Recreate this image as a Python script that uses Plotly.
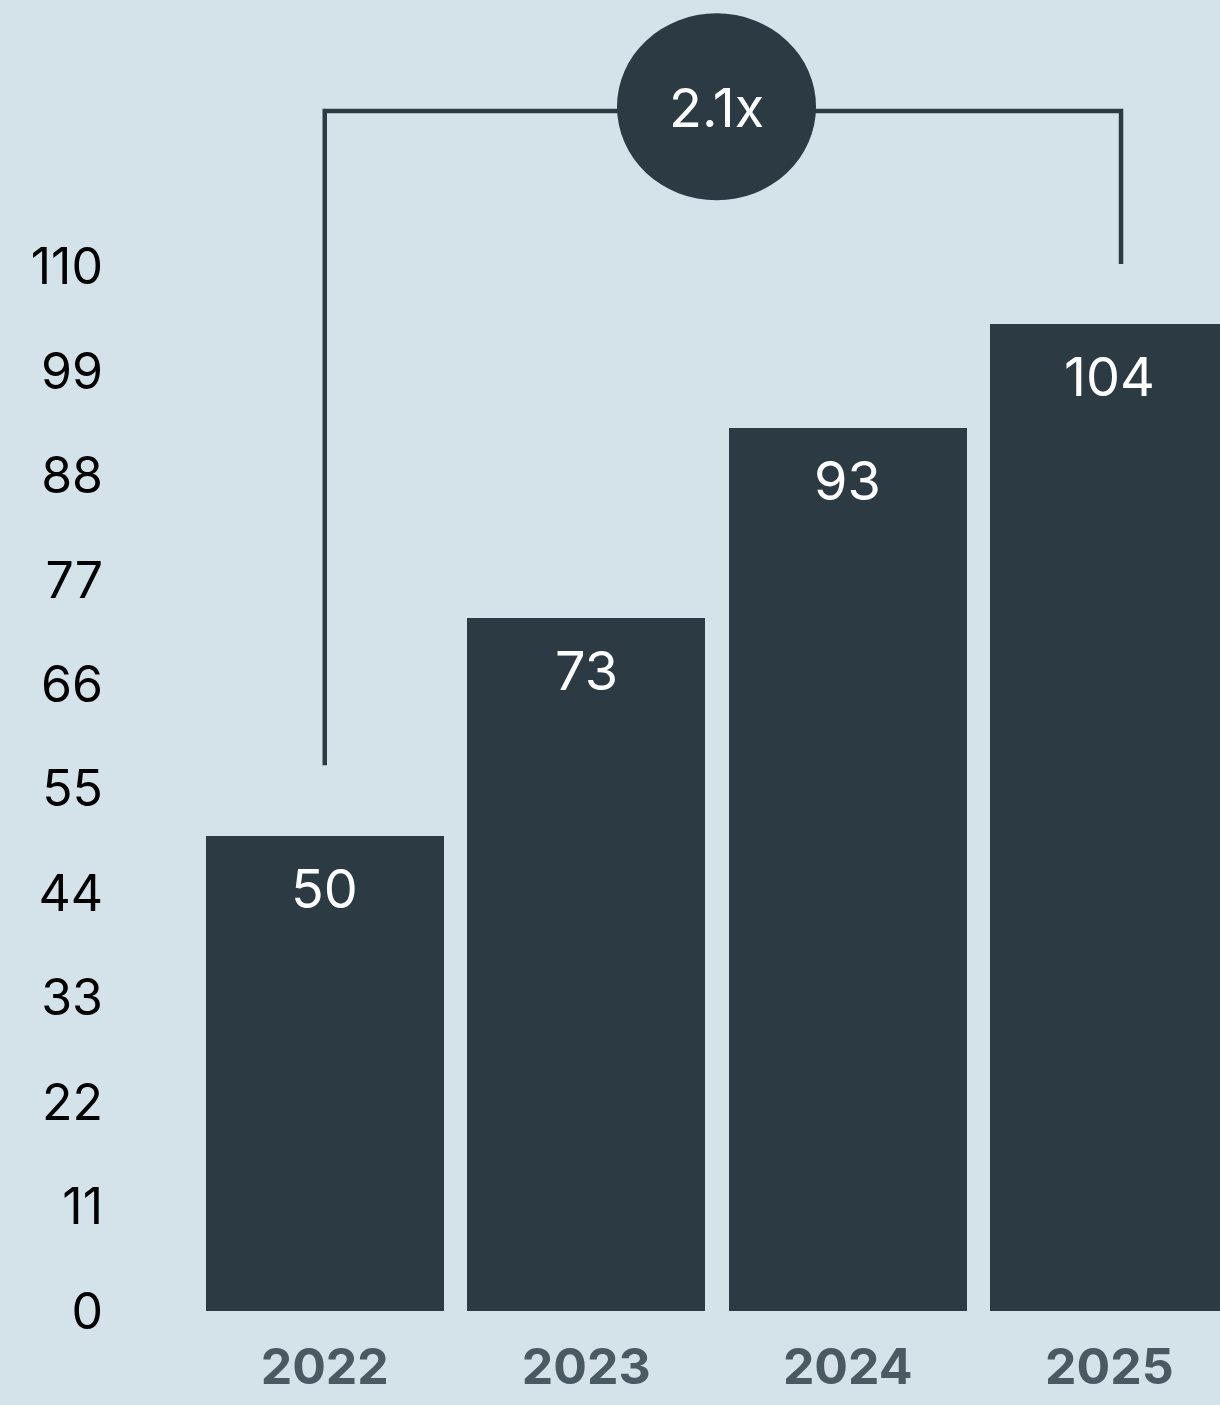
import plotly.graph_objects as go

years = ["2022", "2023", "2024", "2025"]
values = [50, 73, 93, 104]
tick_vals = [0, 11, 22, 33, 44, 55, 66, 77, 88, 99, 110]
growth_label = "2.1x"

BG = "#d4e3ea"
BAR = "#2b3a43"
XLAB = "#4a5a62"
FONT = "Inter"

fig = go.Figure()
fig.add_trace(go.Bar(
    x=list(range(len(years))), y=values,
    marker=dict(color=BAR, line=dict(width=0)),
    width=0.91, hoverinfo="skip",
))

# value labels inside bars near top
for i, v in enumerate(values):
    fig.add_annotation(x=i, y=v, text=str(v), showarrow=False,
                       yanchor="top", yshift=-18,
                       font=dict(family=FONT, size=54, color="white"))

# bracket
top_y = 126.4
left_foot = values[0] + 7.5
right_foot = tick_vals[-1] + 0.3
x_left = 0
x_right = 3.045
fig.add_shape(type="path",
              path=f"M {x_left},{left_foot} L {x_left},{top_y} L {x_right},{top_y} L {x_right},{right_foot}",
              line=dict(color=BAR, width=4.5), layer="below")
fig.add_shape(type="circle", x0=1.1176, x1=1.8786, y0=117.0, y1=136.7,
              fillcolor=BAR, line=dict(width=0))
fig.add_annotation(x=1.498, y=126.8, text=growth_label, showarrow=False,
                   font=dict(family=FONT, size=54, color="white"))

fig.update_layout(
    width=1220, height=1405,
    paper_bgcolor=BG, plot_bgcolor=BG,
    margin=dict(l=194, r=0, t=0, b=94),
    showlegend=False,
    bargap=0,
    xaxis=dict(range=[-0.5, 3.4235], tickmode="array",
               tickvals=list(range(len(years))), ticktext=years,
               showgrid=False, zeroline=False, showline=False,
               ticks="", ticklabelstandoff=22, automargin=False,
               tickfont=dict(family=FONT, size=50, color=XLAB, weight="bold")),
    yaxis=dict(range=[0, 138.1], tickmode="array", tickvals=tick_vals,
               showgrid=False, zeroline=False, showline=False,
               ticks="", ticklabelstandoff=90, automargin=False,
               tickfont=dict(family=FONT, size=50, color="#000000")),
)

fig.write_html("out.html")
